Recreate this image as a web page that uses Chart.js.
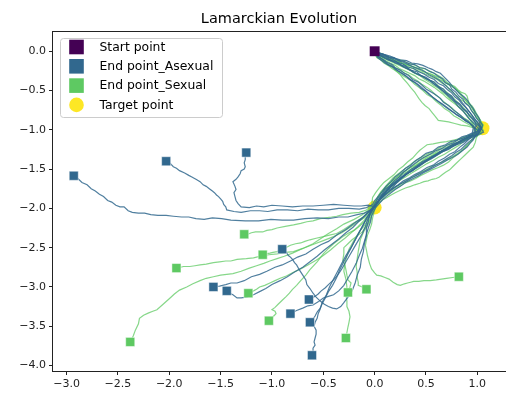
<!DOCTYPE html>
<html>
<head>
<meta charset="utf-8">
<script src="https://cdn.jsdelivr.net/npm/chart.js@4/dist/chart.umd.min.js"></script>
<style>
  html, body { margin: 0; padding: 0; background: #fff; }
  canvas { display: block; }
</style>
</head>
<body>
<canvas id="chart" width="506" height="395"></canvas>
<script>
// ---- data ---------------------------------------------------------------
const chartTitle = 'Lamarckian Evolution';
const legendLabels = ['Start point', 'End point_Asexual', 'End point_Sexual', 'Target point'];

const startPoint = [[0, 0]];
const targetPoints = [[1.05, -0.98], [0.0, -1.99]];

// each run: positions of one individual over the generations
const asexualRuns = [
  [[0,0],[0.03,-0.02],[0.07,-0.06],[0.12,-0.08],[0.16,-0.12],[0.21,-0.13],[0.26,-0.18],[0.3,-0.19],[0.35,-0.24],[0.41,-0.26],[0.45,-0.31],[0.5,-0.33],[0.54,-0.37],[0.58,-0.39],[0.62,-0.45],[0.67,-0.48],[0.7,-0.53],[0.75,-0.57],[0.78,-0.63],[0.83,-0.67],[0.86,-0.73],[0.9,-0.77],[0.92,-0.82],[0.96,-0.86],[0.98,-0.91],[0.99,-0.95],[0.97,-0.99],
   [0.97,-1.04],[0.93,-1.06],[0.9,-1.1],[0.84,-1.13],[0.79,-1.19],[0.74,-1.21],[0.68,-1.26],[0.63,-1.28],[0.58,-1.34],[0.51,-1.38],[0.46,-1.43],[0.42,-1.46],[0.37,-1.52],[0.31,-1.56],[0.26,-1.62],[0.22,-1.67],[0.17,-1.74],[0.12,-1.78],[0.08,-1.85],[0.04,-1.9],[0.01,-1.96],
   [-0.04,-2.02],[-0.1,-2.06],[-0.17,-2.08],[-0.26,-2.11],[-0.35,-2.11],[-0.45,-2.13],[-0.56,-2.12],[-0.68,-2.13],[-0.79,-2.15],[-0.9,-2.15],[-1.01,-2.14],[-1.13,-2.16],[-1.26,-2.16],[-1.4,-2.15],[-1.49,-2.13],[-1.58,-2.12],[-1.66,-2.14],[-1.74,-2.13],[-1.81,-2.11],[-1.88,-2.11],[-1.96,-2.1],[-2.03,-2.09],[-2.11,-2.09],[-2.18,-2.08],[-2.24,-2.06],[-2.3,-2.06],[-2.36,-2.05],[-2.4,-2.03],[-2.44,-1.98],[-2.48,-1.98],[-2.52,-1.96],[-2.56,-1.92],[-2.6,-1.9],[-2.64,-1.85],[-2.68,-1.82],[-2.72,-1.78],[-2.76,-1.75],[-2.8,-1.7],[-2.85,-1.67],[-2.89,-1.62],[-2.93,-1.585]],
  [[0,0],[0.04,-0.03],[0.09,-0.04],[0.14,-0.07],[0.19,-0.08],[0.24,-0.12],[0.29,-0.13],[0.34,-0.16],[0.39,-0.17],[0.44,-0.21],[0.49,-0.22],[0.54,-0.26],[0.58,-0.28],[0.62,-0.32],[0.66,-0.35],[0.69,-0.4],[0.73,-0.43],[0.75,-0.48],[0.79,-0.52],[0.82,-0.57],[0.86,-0.61],[0.88,-0.66],[0.92,-0.7],[0.94,-0.75],[0.97,-0.8],[0.99,-0.85],[1.02,-0.9],[1.03,-0.96],
   [1.0,-1.02],[0.95,-1.04],[0.9,-1.07],[0.85,-1.09],[0.8,-1.13],[0.74,-1.15],[0.69,-1.19],[0.62,-1.22],[0.57,-1.27],[0.5,-1.3],[0.45,-1.35],[0.4,-1.39],[0.35,-1.45],[0.3,-1.49],[0.25,-1.55],[0.2,-1.6],[0.16,-1.66],[0.11,-1.72],[0.07,-1.79],[0.04,-1.84],[0.0,-1.9],[-0.02,-1.95],
   [-0.08,-1.99],[-0.15,-2.01],[-0.25,-2.0],[-0.35,-2.0],[-0.45,-2.02],[-0.55,-2.02],[-0.65,-2.01],[-0.75,-2.03],[-0.85,-2.02],[-0.95,-2.02],[-1.04,-2.04],[-1.12,-2.03],[-1.21,-2.03],[-1.3,-2.05],[-1.37,-2.04],[-1.44,-2.02],[-1.45,-1.98],[-1.47,-1.95],[-1.48,-1.91],[-1.5,-1.88],[-1.52,-1.85],[-1.54,-1.83],[-1.56,-1.8],[-1.58,-1.78],[-1.61,-1.75],[-1.64,-1.72],[-1.67,-1.7],[-1.7,-1.66],[-1.74,-1.63],[-1.78,-1.6],[-1.81,-1.58],[-1.85,-1.55],[-1.9,-1.52],[-1.93,-1.49],[-1.96,-1.47],[-1.99,-1.43],[-2.03,-1.40]],
  [[0,0],[0.02,-0.05],[0.05,-0.08],[0.09,-0.11],[0.12,-0.14],[0.17,-0.17],[0.2,-0.21],[0.25,-0.24],[0.29,-0.28],[0.33,-0.31],[0.37,-0.36],[0.42,-0.39],[0.46,-0.43],[0.5,-0.48],[0.55,-0.52],[0.59,-0.55],[0.64,-0.6],[0.67,-0.65],[0.72,-0.69],[0.76,-0.74],[0.8,-0.78],[0.84,-0.82],[0.87,-0.86],[0.91,-0.89],[0.95,-0.95],[0.96,-0.98],
   [0.95,-1.04],[0.95,-1.08],[0.91,-1.13],[0.87,-1.18],[0.83,-1.22],[0.78,-1.28],[0.73,-1.31],[0.68,-1.36],[0.62,-1.4],[0.57,-1.45],[0.51,-1.48],[0.45,-1.53],[0.39,-1.57],[0.34,-1.61],[0.28,-1.65],[0.23,-1.7],[0.18,-1.74],[0.13,-1.79],[0.09,-1.84],[0.05,-1.89],[0.0,-1.98],
   [-0.06,-1.96],[-0.13,-1.97],[-0.2,-1.97],[-0.3,-1.96],[-0.4,-1.95],[-0.5,-1.96],[-0.6,-1.97],[-0.7,-1.97],[-0.8,-1.98],[-0.9,-1.97],[-1.0,-1.96],[-1.08,-1.98],[-1.15,-1.97],[-1.22,-1.99],[-1.3,-1.98],[-1.33,-1.94],[-1.35,-1.9],[-1.36,-1.85],[-1.37,-1.8],[-1.35,-1.76],[-1.36,-1.72],[-1.38,-1.66],[-1.35,-1.63],[-1.33,-1.6],[-1.31,-1.56],[-1.3,-1.52],[-1.27,-1.5],[-1.26,-1.47],[-1.27,-1.42],[-1.26,-1.38],[-1.26,-1.33],[-1.25,-1.29]],
  [[0,0],[0.04,-0.03],[0.07,-0.05],[0.12,-0.07],[0.17,-0.1],[0.22,-0.14],[0.27,-0.16],[0.32,-0.2],[0.38,-0.22],[0.43,-0.26],[0.48,-0.29],[0.53,-0.33],[0.58,-0.36],[0.62,-0.41],[0.67,-0.44],[0.71,-0.49],[0.75,-0.53],[0.78,-0.58],[0.82,-0.62],[0.85,-0.67],[0.89,-0.72],[0.92,-0.77],[0.95,-0.82],[0.97,-0.86],[1.0,-0.9],[1.02,-0.95],[1.04,-0.98],
   [1.01,-1.03],[0.98,-1.06],[0.93,-1.09],[0.88,-1.13],[0.83,-1.16],[0.77,-1.2],[0.72,-1.25],[0.66,-1.28],[0.6,-1.33],[0.55,-1.37],[0.49,-1.41],[0.44,-1.46],[0.39,-1.5],[0.33,-1.55],[0.28,-1.6],[0.23,-1.65],[0.18,-1.7],[0.13,-1.76],[0.09,-1.81],[0.05,-1.87],[0.0,-1.97],
   [-0.03,-2.02],[-0.05,-2.08],[-0.06,-2.16],[-0.08,-2.25],[-0.08,-2.35],[-0.1,-2.45],[-0.11,-2.55],[-0.13,-2.65],[-0.14,-2.75],[-0.17,-2.85],[-0.19,-2.95],[-0.22,-3.05],[-0.26,-3.13],[-0.3,-3.2],[-0.33,-3.25],[-0.37,-3.28],[-0.41,-3.27],[-0.45,-3.25],[-0.49,-3.22],[-0.53,-3.18],[-0.57,-3.13],[-0.6,-3.08],[-0.63,-3.02],[-0.66,-2.97],[-0.67,-2.91],[-0.7,-2.85],[-0.73,-2.79],[-0.76,-2.72],[-0.78,-2.69],[-0.8,-2.65],[-0.82,-2.62],[-0.84,-2.6],[-0.86,-2.56],[-0.9,-2.52]],
  [[0,0],[0.01,-0.04],[0.04,-0.07],[0.07,-0.1],[0.1,-0.13],[0.13,-0.17],[0.17,-0.19],[0.2,-0.23],[0.24,-0.26],[0.27,-0.29],[0.31,-0.32],[0.34,-0.36],[0.38,-0.39],[0.42,-0.43],[0.45,-0.47],[0.5,-0.51],[0.53,-0.55],[0.58,-0.6],[0.62,-0.64],[0.67,-0.69],[0.71,-0.73],[0.76,-0.77],[0.8,-0.81],[0.85,-0.85],[0.89,-0.89],[0.93,-0.92],[0.98,-0.98],[1.02,-1.03],[1.0,-1.07],
   [0.96,-1.08],[0.92,-1.07],[0.87,-1.1],[0.81,-1.13],[0.76,-1.17],[0.7,-1.2],[0.65,-1.24],[0.59,-1.27],[0.54,-1.31],[0.48,-1.35],[0.43,-1.39],[0.38,-1.44],[0.33,-1.49],[0.28,-1.54],[0.24,-1.6],[0.19,-1.65],[0.15,-1.71],[0.1,-1.76],[0.07,-1.82],[0.03,-1.88],[-0.02,-1.99],
   [-0.07,-2.05],[-0.12,-2.12],[-0.2,-2.19],[-0.28,-2.27],[-0.36,-2.33],[-0.45,-2.42],[-0.52,-2.46],[-0.6,-2.52],[-0.67,-2.58],[-0.75,-2.62],[-0.82,-2.67],[-0.9,-2.72],[-0.97,-2.75],[-1.05,-2.8],[-1.12,-2.84],[-1.2,-2.87],[-1.27,-2.92],[-1.34,-2.95],[-1.4,-2.95],[-1.45,-2.97],[-1.51,-2.99],[-1.57,-3.0]],
  [[0,0],[0.04,-0.02],[0.09,-0.04],[0.15,-0.06],[0.2,-0.09],[0.25,-0.11],[0.31,-0.12],[0.36,-0.15],[0.42,-0.16],[0.47,-0.18],[0.52,-0.21],[0.56,-0.23],[0.6,-0.26],[0.64,-0.28],[0.67,-0.32],[0.7,-0.36],[0.73,-0.4],[0.76,-0.45],[0.79,-0.49],[0.83,-0.54],[0.87,-0.58],[0.9,-0.62],[0.93,-0.68],[0.96,-0.73],[0.98,-0.78],[1.0,-0.82],[1.02,-0.86],[1.03,-0.9],[1.05,-0.94],[1.04,-0.99],
   [1.02,-1.03],[1.0,-1.07],[0.96,-1.11],[0.92,-1.15],[0.88,-1.2],[0.84,-1.25],[0.79,-1.29],[0.75,-1.33],[0.7,-1.37],[0.65,-1.41],[0.59,-1.45],[0.54,-1.49],[0.48,-1.53],[0.42,-1.57],[0.36,-1.61],[0.31,-1.65],[0.25,-1.69],[0.2,-1.73],[0.15,-1.78],[0.1,-1.83],[0.06,-1.88],[0.03,-1.93],
   [-0.01,-1.99],[-0.05,-2.04],[-0.1,-2.1],[-0.15,-2.16],[-0.21,-2.24],[-0.28,-2.31],[-0.35,-2.39],[-0.42,-2.46],[-0.49,-2.53],[-0.56,-2.61],[-0.63,-2.68],[-0.7,-2.75],[-0.78,-2.81],[-0.85,-2.87],[-0.92,-2.92],[-1.0,-2.97],[-1.06,-3.02],[-1.12,-3.06],[-1.18,-3.1],[-1.25,-3.13],[-1.3,-3.14],[-1.34,-3.14],[-1.38,-3.1],[-1.41,-3.08],[-1.44,-3.05]],
  [[0,0],[0.03,-0.04],[0.06,-0.06],[0.1,-0.09],[0.13,-0.11],[0.18,-0.13],[0.23,-0.16],[0.28,-0.2],[0.33,-0.23],[0.38,-0.27],[0.43,-0.3],[0.48,-0.33],[0.53,-0.37],[0.57,-0.41],[0.62,-0.45],[0.66,-0.5],[0.7,-0.54],[0.74,-0.58],[0.78,-0.63],[0.82,-0.68],[0.86,-0.73],[0.9,-0.78],[0.93,-0.83],[0.96,-0.88],[0.99,-0.92],[1.03,-0.97],[1.06,-1.03],
   [1.01,-1.06],[0.95,-1.07],[0.9,-1.1],[0.84,-1.14],[0.79,-1.17],[0.73,-1.21],[0.68,-1.25],[0.63,-1.29],[0.57,-1.33],[0.52,-1.37],[0.46,-1.41],[0.41,-1.46],[0.36,-1.5],[0.31,-1.55],[0.26,-1.6],[0.21,-1.65],[0.16,-1.7],[0.12,-1.76],[0.08,-1.82],[0.05,-1.88],[-0.01,-2.0],
   [-0.04,-2.07],[-0.07,-2.15],[-0.09,-2.23],[-0.12,-2.32],[-0.16,-2.41],[-0.2,-2.5],[-0.24,-2.59],[-0.28,-2.68],[-0.32,-2.77],[-0.36,-2.85],[-0.4,-2.91],[-0.45,-2.97],[-0.48,-3.01],[-0.52,-3.05],[-0.55,-3.09],[-0.58,-3.12],[-0.61,-3.14],[-0.64,-3.16]],
  [[0,0],[0.02,-0.05],[0.03,-0.08],[0.07,-0.12],[0.1,-0.15],[0.14,-0.18],[0.19,-0.21],[0.23,-0.25],[0.28,-0.29],[0.32,-0.33],[0.36,-0.37],[0.41,-0.41],[0.45,-0.45],[0.49,-0.5],[0.53,-0.54],[0.57,-0.59],[0.61,-0.63],[0.66,-0.67],[0.7,-0.71],[0.75,-0.76],[0.79,-0.8],[0.84,-0.84],[0.88,-0.88],[0.92,-0.91],[0.96,-0.95],[0.98,-1.0],[0.99,-1.06],
   [0.97,-1.1],[0.96,-1.13],[0.93,-1.17],[0.9,-1.22],[0.85,-1.27],[0.81,-1.31],[0.76,-1.35],[0.7,-1.39],[0.65,-1.43],[0.59,-1.47],[0.53,-1.51],[0.47,-1.55],[0.42,-1.59],[0.36,-1.63],[0.3,-1.67],[0.25,-1.72],[0.2,-1.76],[0.15,-1.81],[0.11,-1.85],[0.07,-1.9],[0.01,-1.99],
   [-0.01,-2.04],[-0.03,-2.1],[-0.04,-2.17],[-0.06,-2.24],[-0.08,-2.33],[-0.1,-2.42],[-0.12,-2.51],[-0.15,-2.6],[-0.18,-2.7],[-0.22,-2.8],[-0.26,-2.89],[-0.3,-2.98],[-0.35,-3.05],[-0.4,-3.1],[-0.45,-3.12],[-0.5,-3.14],[-0.55,-3.19],[-0.6,-3.23],[-0.65,-3.24],[-0.7,-3.27],[-0.76,-3.3],[-0.82,-3.34]],
  [[0,0],[0.04,-0.04],[0.06,-0.06],[0.11,-0.09],[0.15,-0.11],[0.2,-0.15],[0.25,-0.17],[0.3,-0.21],[0.35,-0.24],[0.4,-0.28],[0.45,-0.31],[0.5,-0.35],[0.55,-0.38],[0.59,-0.43],[0.63,-0.47],[0.67,-0.51],[0.71,-0.56],[0.75,-0.61],[0.79,-0.66],[0.82,-0.71],[0.86,-0.76],[0.89,-0.81],[0.92,-0.86],[0.95,-0.9],[0.98,-0.94],[1.01,-0.98],[1.03,-1.01],
   [0.99,-1.06],[0.96,-1.09],[0.91,-1.12],[0.86,-1.16],[0.8,-1.19],[0.75,-1.22],[0.69,-1.26],[0.63,-1.3],[0.58,-1.34],[0.52,-1.38],[0.47,-1.42],[0.41,-1.47],[0.36,-1.52],[0.3,-1.57],[0.25,-1.62],[0.2,-1.67],[0.15,-1.73],[0.11,-1.79],[0.07,-1.85],[0.04,-1.9],[-0.03,-2.01],
   [-0.06,-2.09],[-0.1,-2.18],[-0.14,-2.28],[-0.18,-2.38],[-0.22,-2.48],[-0.26,-2.58],[-0.3,-2.68],[-0.34,-2.78],[-0.37,-2.88],[-0.41,-2.98],[-0.45,-3.06],[-0.48,-3.14],[-0.51,-3.21],[-0.53,-3.27],[-0.56,-3.32],[-0.58,-3.37],[-0.6,-3.41],[-0.63,-3.45]],
  [[0,0],[0.04,-0.02],[0.08,-0.04],[0.13,-0.07],[0.18,-0.09],[0.23,-0.12],[0.28,-0.14],[0.33,-0.17],[0.38,-0.2],[0.44,-0.23],[0.49,-0.26],[0.53,-0.3],[0.58,-0.33],[0.63,-0.37],[0.67,-0.41],[0.71,-0.46],[0.75,-0.5],[0.78,-0.55],[0.82,-0.6],[0.85,-0.65],[0.88,-0.7],[0.91,-0.75],[0.94,-0.8],[0.97,-0.85],[0.99,-0.89],[1.02,-0.93],[1.04,-0.97],
   [1.0,-1.02],[0.98,-1.04],[0.93,-1.08],[0.88,-1.11],[0.83,-1.15],[0.77,-1.18],[0.72,-1.22],[0.66,-1.26],[0.61,-1.31],[0.55,-1.35],[0.5,-1.4],[0.45,-1.44],[0.4,-1.49],[0.35,-1.53],[0.29,-1.58],[0.24,-1.63],[0.19,-1.69],[0.14,-1.74],[0.1,-1.8],[0.06,-1.86],[0.0,-1.98],
   [-0.04,-2.05],[-0.08,-2.12],[-0.11,-2.21],[-0.15,-2.3],[-0.19,-2.4],[-0.23,-2.5],[-0.28,-2.6],[-0.32,-2.7],[-0.36,-2.8],[-0.4,-2.9],[-0.44,-3.0],[-0.47,-3.1],[-0.51,-3.19],[-0.53,-3.28],[-0.55,-3.34],[-0.56,-3.4],[-0.58,-3.45],[-0.59,-3.5],[-0.57,-3.55],[-0.57,-3.6],[-0.58,-3.65],[-0.59,-3.7],[-0.58,-3.74],[-0.6,-3.78],[-0.6,-3.83],[-0.61,-3.87]]
];

const sexualRuns = [
  [[0,0],[0.02,-0.04],[0.05,-0.05],[0.09,-0.08],[0.14,-0.09],[0.19,-0.12],[0.25,-0.14],[0.3,-0.17],[0.36,-0.19],[0.41,-0.21],[0.46,-0.23],[0.5,-0.27],[0.55,-0.29],[0.6,-0.32],[0.64,-0.34],[0.68,-0.39],[0.71,-0.41],[0.75,-0.43],[0.78,-0.45],[0.81,-0.49],[0.84,-0.52],[0.88,-0.54],[0.9,-0.57],[0.91,-0.62],[0.92,-0.66],[0.95,-0.7],[0.97,-0.74],[0.99,-0.79],[1.01,-0.83],[1.03,-0.88],[1.05,-0.93],
   [1.03,-0.99],[1.0,-1.03],[0.95,-1.06],[0.9,-1.08],[0.84,-1.11],[0.77,-1.13],[0.7,-1.15],[0.64,-1.16],[0.57,-1.18],[0.51,-1.19],[0.47,-1.23],[0.44,-1.26],[0.41,-1.3],[0.37,-1.36],[0.32,-1.41],[0.28,-1.46],[0.23,-1.51],[0.19,-1.57],[0.14,-1.62],[0.09,-1.67],[0.05,-1.73],[0.01,-1.8],[-0.02,-1.86],[-0.03,-1.97],
   [-0.08,-2.02],[-0.15,-2.05],[-0.23,-2.06],[-0.31,-2.08],[-0.37,-2.1],[-0.42,-2.11],[-0.48,-2.12],[-0.53,-2.13],[-0.6,-2.16],[-0.66,-2.17],[-0.72,-2.19],[-0.79,-2.21],[-0.87,-2.23],[-0.95,-2.25],[-1.0,-2.27],[-1.05,-2.28],[-1.09,-2.3],[-1.12,-2.3],[-1.16,-2.3],[-1.2,-2.31],[-1.24,-2.33],[-1.27,-2.33]],
  [[0,0],[0.01,-0.04],[0.02,-0.07],[0.05,-0.1],[0.09,-0.13],[0.12,-0.16],[0.17,-0.2],[0.2,-0.24],[0.25,-0.3],[0.28,-0.35],[0.32,-0.41],[0.35,-0.46],[0.39,-0.52],[0.41,-0.56],[0.43,-0.6],[0.46,-0.65],[0.49,-0.69],[0.53,-0.73],[0.56,-0.78],[0.59,-0.83],[0.62,-0.88],[0.67,-0.89],[0.72,-0.9],[0.78,-0.92],[0.84,-0.94],[0.9,-0.95],[0.95,-0.97],[1.0,-0.99],[1.04,-1.03],
   [1.01,-1.06],[0.99,-1.1],[0.98,-1.16],[0.96,-1.22],[0.92,-1.27],[0.88,-1.32],[0.84,-1.37],[0.8,-1.42],[0.76,-1.47],[0.73,-1.51],[0.69,-1.54],[0.66,-1.57],[0.63,-1.6],[0.6,-1.62],[0.56,-1.63],[0.52,-1.65],[0.48,-1.66],[0.44,-1.68],[0.39,-1.7],[0.35,-1.72],[0.3,-1.74],[0.25,-1.77],[0.2,-1.8],[0.16,-1.83],[0.12,-1.86],[0.08,-1.89],[0.02,-1.96],
   [-0.04,-2.03],[-0.1,-2.1],[-0.16,-2.15],[-0.22,-2.2],[-0.3,-2.27],[-0.37,-2.32],[-0.44,-2.34],[-0.5,-2.36],[-0.57,-2.38],[-0.63,-2.4],[-0.68,-2.42],[-0.72,-2.44],[-0.77,-2.45],[-0.82,-2.47],[-0.88,-2.51],[-0.95,-2.55],[-0.99,-2.56],[-1.02,-2.57],[-1.06,-2.58],[-1.09,-2.59]],
  [[0,0],[0.02,-0.03],[0.04,-0.05],[0.08,-0.08],[0.12,-0.1],[0.17,-0.11],[0.22,-0.13],[0.27,-0.16],[0.32,-0.19],[0.37,-0.22],[0.42,-0.25],[0.46,-0.27],[0.51,-0.3],[0.56,-0.33],[0.61,-0.36],[0.65,-0.4],[0.7,-0.44],[0.73,-0.49],[0.77,-0.53],[0.8,-0.57],[0.83,-0.61],[0.87,-0.64],[0.91,-0.68],[0.93,-0.72],[0.95,-0.77],[0.98,-0.82],[1.0,-0.86],[1.03,-0.9],[1.06,-0.94],
   [1.04,-0.99],[1.02,-1.04],[0.97,-1.07],[0.93,-1.1],[0.87,-1.13],[0.82,-1.16],[0.77,-1.2],[0.72,-1.24],[0.66,-1.27],[0.6,-1.3],[0.55,-1.33],[0.5,-1.36],[0.45,-1.41],[0.4,-1.45],[0.34,-1.49],[0.29,-1.53],[0.24,-1.58],[0.19,-1.63],[0.14,-1.69],[0.1,-1.75],[0.06,-1.81],[0.03,-1.87],[-0.02,-1.97],
   [-0.06,-2.05],[-0.1,-2.12],[-0.17,-2.18],[-0.25,-2.25],[-0.32,-2.31],[-0.4,-2.36],[-0.5,-2.41],[-0.6,-2.46],[-0.7,-2.51],[-0.79,-2.55],[-0.87,-2.56],[-0.95,-2.58],[-1.03,-2.59],[-1.12,-2.61],[-1.18,-2.63],[-1.25,-2.64],[-1.34,-2.65],[-1.4,-2.67],[-1.45,-2.67],[-1.51,-2.68],[-1.57,-2.69],[-1.64,-2.71],[-1.7,-2.72],[-1.75,-2.73],[-1.8,-2.74],[-1.86,-2.74],[-1.93,-2.76]],
  [[0,0],[0.01,-0.03],[0.03,-0.06],[0.07,-0.09],[0.11,-0.12],[0.15,-0.15],[0.2,-0.18],[0.24,-0.22],[0.29,-0.25],[0.34,-0.28],[0.39,-0.31],[0.43,-0.35],[0.48,-0.38],[0.53,-0.42],[0.58,-0.46],[0.62,-0.5],[0.66,-0.54],[0.7,-0.59],[0.74,-0.63],[0.78,-0.67],[0.82,-0.71],[0.86,-0.76],[0.89,-0.8],[0.92,-0.85],[0.96,-0.94],[0.97,-0.99],
   [0.97,-1.04],[0.98,-1.08],[0.95,-1.13],[0.91,-1.18],[0.88,-1.23],[0.84,-1.28],[0.8,-1.32],[0.76,-1.36],[0.72,-1.41],[0.67,-1.45],[0.62,-1.48],[0.56,-1.51],[0.5,-1.55],[0.45,-1.58],[0.4,-1.62],[0.35,-1.65],[0.29,-1.68],[0.24,-1.72],[0.19,-1.76],[0.14,-1.8],[0.1,-1.84],[0.06,-1.88],[0.01,-1.97],
   [-0.05,-2.06],[-0.1,-2.15],[-0.16,-2.23],[-0.22,-2.3],[-0.29,-2.38],[-0.36,-2.45],[-0.43,-2.53],[-0.5,-2.6],[-0.57,-2.66],[-0.65,-2.72],[-0.72,-2.77],[-0.8,-2.82],[-0.86,-2.86],[-0.92,-2.89],[-0.97,-2.92],[-1.02,-2.95],[-1.07,-2.98],[-1.12,-3.0],[-1.15,-3.03],[-1.18,-3.05],[-1.23,-3.08]],
  [[0,0],[0.03,-0.02],[0.07,-0.03],[0.11,-0.06],[0.16,-0.08],[0.21,-0.1],[0.27,-0.12],[0.32,-0.15],[0.38,-0.17],[0.43,-0.2],[0.48,-0.22],[0.53,-0.25],[0.58,-0.28],[0.62,-0.31],[0.67,-0.35],[0.7,-0.39],[0.74,-0.43],[0.78,-0.47],[0.81,-0.51],[0.84,-0.56],[0.87,-0.6],[0.9,-0.64],[0.93,-0.68],[0.95,-0.73],[0.98,-0.78],[1.0,-0.83],[1.03,-0.88],[1.04,-0.92],[1.05,-0.97],
   [1.02,-1.01],[0.99,-1.05],[0.94,-1.08],[0.88,-1.12],[0.82,-1.15],[0.76,-1.18],[0.7,-1.22],[0.64,-1.25],[0.59,-1.29],[0.53,-1.32],[0.48,-1.36],[0.43,-1.4],[0.38,-1.45],[0.33,-1.49],[0.28,-1.54],[0.23,-1.59],[0.18,-1.64],[0.13,-1.7],[0.09,-1.76],[0.05,-1.82],[0.02,-1.88],[-0.01,-1.95],
   [-0.06,-2.02],[-0.12,-2.08],[-0.2,-2.14],[-0.3,-2.2],[-0.37,-2.26],[-0.45,-2.32],[-0.52,-2.38],[-0.6,-2.45],[-0.7,-2.51],[-0.8,-2.57],[-0.88,-2.61],[-0.95,-2.64],[-1.02,-2.67],[-1.08,-2.7],[-1.15,-2.73],[-1.22,-2.76],[-1.3,-2.8],[-1.38,-2.83],[-1.44,-2.84],[-1.5,-2.85],[-1.57,-2.87],[-1.64,-2.89],[-1.7,-2.92],[-1.77,-2.96],[-1.83,-3.0],[-1.9,-3.04],[-1.95,-3.09],[-2.0,-3.15],[-2.06,-3.22],[-2.12,-3.29],[-2.16,-3.31],[-2.2,-3.33],[-2.25,-3.36],[-2.29,-3.4],[-2.3,-3.47],[-2.33,-3.55],[-2.35,-3.62],[-2.38,-3.7]],
  [[0,0],[0.01,-0.05],[0.02,-0.08],[0.06,-0.11],[0.09,-0.15],[0.13,-0.18],[0.17,-0.22],[0.22,-0.26],[0.26,-0.3],[0.3,-0.33],[0.35,-0.37],[0.39,-0.42],[0.43,-0.46],[0.47,-0.5],[0.51,-0.55],[0.56,-0.59],[0.6,-0.64],[0.64,-0.68],[0.68,-0.73],[0.73,-0.77],[0.77,-0.82],[0.81,-0.85],[0.86,-0.89],[0.9,-0.92],[0.94,-0.95],[1.0,-1.0],[1.04,-1.05],
   [0.99,-1.08],[0.94,-1.09],[0.89,-1.12],[0.83,-1.16],[0.78,-1.19],[0.72,-1.23],[0.67,-1.27],[0.62,-1.31],[0.56,-1.35],[0.51,-1.4],[0.45,-1.44],[0.4,-1.48],[0.34,-1.53],[0.29,-1.58],[0.24,-1.63],[0.19,-1.68],[0.15,-1.73],[0.11,-1.78],[0.07,-1.84],[0.04,-1.89],[0.0,-2.0],
   [-0.04,-2.07],[-0.08,-2.15],[-0.14,-2.22],[-0.2,-2.28],[-0.25,-2.31],[-0.3,-2.35],[-0.35,-2.4],[-0.4,-2.45],[-0.45,-2.51],[-0.5,-2.58],[-0.56,-2.68],[-0.63,-2.78],[-0.67,-2.85],[-0.72,-2.92],[-0.76,-2.98],[-0.8,-3.03],[-0.83,-3.08],[-0.86,-3.12],[-0.9,-3.17],[-0.94,-3.22],[-0.97,-3.26],[-1.0,-3.29],[-0.97,-3.31],[-0.96,-3.34],[-0.99,-3.38],[-1.03,-3.43]],
  [[0,0],[0.03,-0.03],[0.06,-0.05],[0.11,-0.07],[0.16,-0.09],[0.21,-0.12],[0.27,-0.15],[0.32,-0.17],[0.37,-0.2],[0.42,-0.23],[0.47,-0.26],[0.52,-0.28],[0.57,-0.31],[0.62,-0.35],[0.66,-0.38],[0.7,-0.41],[0.74,-0.44],[0.78,-0.47],[0.81,-0.5],[0.84,-0.54],[0.86,-0.58],[0.88,-0.62],[0.9,-0.65],[0.93,-0.68],[0.95,-0.72],[0.97,-0.77],[0.98,-0.82],[1.01,-0.87],[1.03,-0.91],[1.04,-0.99],
   [1.0,-1.03],[0.97,-1.07],[0.92,-1.11],[0.87,-1.14],[0.83,-1.19],[0.78,-1.23],[0.73,-1.27],[0.68,-1.31],[0.62,-1.35],[0.57,-1.39],[0.51,-1.43],[0.46,-1.47],[0.41,-1.51],[0.36,-1.55],[0.3,-1.6],[0.25,-1.64],[0.2,-1.69],[0.15,-1.74],[0.11,-1.8],[0.07,-1.85],[0.01,-1.96],
   [-0.02,-2.05],[-0.05,-2.15],[-0.08,-2.22],[-0.12,-2.3],[-0.17,-2.35],[-0.22,-2.4],[-0.26,-2.45],[-0.3,-2.5],[-0.3,-2.58],[-0.31,-2.66],[-0.29,-2.72],[-0.28,-2.78],[-0.27,-2.85],[-0.26,-2.91],[-0.23,-2.95],[-0.24,-3.0],[-0.26,-3.07]],
  [[0,0],[0.02,-0.02],[0.04,-0.04],[0.08,-0.07],[0.13,-0.1],[0.18,-0.12],[0.23,-0.15],[0.28,-0.19],[0.33,-0.22],[0.37,-0.26],[0.42,-0.29],[0.47,-0.32],[0.52,-0.36],[0.57,-0.39],[0.61,-0.43],[0.65,-0.47],[0.69,-0.51],[0.73,-0.55],[0.77,-0.6],[0.81,-0.65],[0.85,-0.7],[0.88,-0.74],[0.91,-0.79],[0.94,-0.83],[0.97,-0.88],[1.0,-0.92],[1.02,-0.96],
   [0.99,-1.01],[0.97,-1.05],[0.92,-1.07],[0.87,-1.1],[0.81,-1.13],[0.75,-1.16],[0.69,-1.2],[0.63,-1.23],[0.58,-1.27],[0.53,-1.3],[0.48,-1.33],[0.43,-1.37],[0.38,-1.41],[0.33,-1.46],[0.28,-1.51],[0.23,-1.56],[0.18,-1.61],[0.14,-1.67],[0.1,-1.73],[0.06,-1.79],[0.03,-1.85],[0.01,-1.92],[-0.02,-2.0],
   [-0.03,-2.08],[-0.04,-2.15],[-0.07,-2.22],[-0.1,-2.28],[-0.12,-2.34],[-0.14,-2.4],[-0.15,-2.48],[-0.16,-2.55],[-0.17,-2.64],[-0.18,-2.74],[-0.17,-2.81],[-0.17,-2.88],[-0.16,-2.94],[-0.16,-2.98],[-0.12,-3.0],[-0.1,-3.02],[-0.08,-3.03]],
  [[0,0],[0.01,-0.04],[0.03,-0.07],[0.07,-0.11],[0.11,-0.14],[0.15,-0.17],[0.19,-0.2],[0.24,-0.24],[0.28,-0.27],[0.33,-0.3],[0.37,-0.34],[0.42,-0.38],[0.46,-0.42],[0.51,-0.46],[0.55,-0.5],[0.59,-0.55],[0.63,-0.59],[0.67,-0.64],[0.71,-0.68],[0.75,-0.72],[0.79,-0.77],[0.83,-0.81],[0.87,-0.85],[0.91,-0.88],[0.94,-0.92],[0.97,-0.95],[0.98,-1.0],
   [0.99,-1.04],[0.97,-1.09],[0.94,-1.14],[0.9,-1.2],[0.86,-1.25],[0.82,-1.29],[0.77,-1.33],[0.72,-1.37],[0.66,-1.41],[0.61,-1.44],[0.55,-1.47],[0.5,-1.51],[0.45,-1.54],[0.4,-1.58],[0.34,-1.62],[0.29,-1.66],[0.24,-1.7],[0.19,-1.74],[0.14,-1.78],[0.1,-1.83],[0.06,-1.88],[0.03,-1.93],
   [0.0,-2.02],[-0.02,-2.12],[-0.03,-2.2],[-0.05,-2.28],[-0.07,-2.34],[-0.08,-2.4],[-0.09,-2.47],[-0.08,-2.53],[-0.07,-2.6],[-0.05,-2.7],[-0.03,-2.77],[0.0,-2.82],[0.02,-2.85],[0.06,-2.86],[0.1,-2.88],[0.14,-2.9],[0.18,-2.94],[0.22,-2.97],[0.25,-2.98],[0.29,-2.96],[0.32,-2.95],[0.35,-2.94],[0.38,-2.93],[0.43,-2.93],[0.48,-2.92],[0.54,-2.92],[0.6,-2.91],[0.65,-2.9],[0.7,-2.89],[0.76,-2.88],[0.82,-2.87]],
  [[0,0],[0.02,-0.04],[0.05,-0.06],[0.09,-0.09],[0.14,-0.12],[0.19,-0.15],[0.24,-0.18],[0.29,-0.21],[0.34,-0.24],[0.39,-0.28],[0.44,-0.31],[0.48,-0.35],[0.53,-0.39],[0.57,-0.43],[0.62,-0.47],[0.66,-0.52],[0.7,-0.56],[0.74,-0.61],[0.78,-0.65],[0.81,-0.7],[0.85,-0.74],[0.88,-0.79],[0.91,-0.84],[0.94,-0.88],[0.97,-0.92],[1.03,-0.96],[1.06,-1.01],
   [1.01,-1.04],[0.96,-1.06],[0.91,-1.1],[0.86,-1.13],[0.81,-1.17],[0.75,-1.2],[0.7,-1.24],[0.65,-1.27],[0.59,-1.31],[0.54,-1.35],[0.48,-1.39],[0.43,-1.43],[0.38,-1.48],[0.33,-1.52],[0.27,-1.57],[0.22,-1.62],[0.17,-1.68],[0.13,-1.73],[0.09,-1.79],[0.06,-1.85],[0.0,-1.98],
   [-0.03,-2.06],[-0.06,-2.13],[-0.1,-2.22],[-0.15,-2.3],[-0.19,-2.38],[-0.22,-2.45],[-0.25,-2.52],[-0.27,-2.6],[-0.29,-2.7],[-0.3,-2.8],[-0.28,-2.9],[-0.27,-3.0],[-0.28,-3.1],[-0.27,-3.18],[-0.27,-3.25],[-0.25,-3.31],[-0.24,-3.38],[-0.25,-3.45],[-0.26,-3.51],[-0.27,-3.58],[-0.28,-3.65]]
];

const xTicks = [-3.0, -2.5, -2.0, -1.5, -1.0, -0.5, 0.0, 0.5, 1.0];
const yTicks = [0.0, -0.5, -1.0, -1.5, -2.0, -2.5, -3.0, -3.5, -4.0];

// ---- styling --------------------------------------------------------------
const COLORS = {
  start: '#440154',
  asexual: '#31688e',
  sexual: '#5ec962',
  target: '#fde725',
  asexualLine: 'rgba(49,104,142,0.85)',
  sexualLine: 'rgba(94,201,98,0.75)'
};
const FONT = '"DejaVu Sans", "Liberation Sans", sans-serif';

const toXY = p => ({ x: p[0], y: p[1] });
const lastPoint = run => toXY(run[run.length - 1]);
const fmtTick = v => (v < 0 ? '\u2212' : '') + Math.abs(v).toFixed(1);

// lower "order" is painted later, i.e. on top
const datasets = [];
datasets.push({
  label: legendLabels[0], data: startPoint.map(toXY),
  pointStyle: 'rect', pointRadius: 7, backgroundColor: COLORS.start,
  borderColor: COLORS.start, borderWidth: 0, order: 0
});
datasets.push({
  label: legendLabels[1], data: asexualRuns.map(lastPoint),
  pointStyle: 'rect', pointRadius: 6.4, backgroundColor: COLORS.asexual,
  borderColor: 'rgba(255,255,255,0.6)', borderWidth: 0.8, order: 1
});
datasets.push({
  label: legendLabels[2], data: sexualRuns.map(lastPoint),
  pointStyle: 'rect', pointRadius: 6.4, backgroundColor: COLORS.sexual,
  borderColor: 'rgba(255,255,255,0.6)', borderWidth: 0.8, order: 1
});
asexualRuns.forEach(run => datasets.push({
  data: run.map(toXY), showLine: true, pointRadius: 0, borderWidth: 1.2,
  borderColor: COLORS.asexualLine, tension: 0, order: 2
}));
sexualRuns.forEach(run => datasets.push({
  data: run.map(toXY), showLine: true, pointRadius: 0, borderWidth: 1.2,
  borderColor: COLORS.sexualLine, tension: 0, order: 2
}));
datasets.push({
  label: legendLabels[3], data: targetPoints.map(toXY),
  pointStyle: 'circle', pointRadius: 7, backgroundColor: COLORS.target,
  borderColor: COLORS.target, borderWidth: 0, order: 3
});

// frame, title and legend box
const overlay = {
  id: 'overlay',
  afterDraw(chart) {
    const { ctx, chartArea: a } = chart;
    ctx.save();
    ctx.strokeStyle = '#222';
    ctx.lineWidth = 1;
    ctx.strokeRect(a.left - 0.5, a.top - 0.5, a.right - a.left + 1, a.bottom - a.top + 1);

    ctx.fillStyle = '#000';
    ctx.font = '14.5px ' + FONT;
    ctx.textAlign = 'center';
    ctx.textBaseline = 'alphabetic';
    ctx.fillText(chartTitle, (a.left + 505) / 2, 22.7);

    // legend
    const bx = 60.5, by = 38.5, bw = 162, bh = 79;
    ctx.beginPath();
    ctx.roundRect(bx, by, bw, bh, 3);
    ctx.fillStyle = 'rgba(255,255,255,0.8)';
    ctx.fill();
    ctx.strokeStyle = '#cccccc';
    ctx.stroke();

    const swatches = [
      { color: COLORS.start, shape: 'rect' },
      { color: COLORS.asexual, shape: 'rect' },
      { color: COLORS.sexual, shape: 'rect' },
      { color: COLORS.target, shape: 'circle' }
    ];
    ctx.font = '12.4px ' + FONT;
    ctx.textAlign = 'left';
    ctx.textBaseline = 'middle';
    swatches.forEach((s, i) => {
      const cy = 47 + i * 19.3, cx = 76.5, h = 7.3;
      ctx.fillStyle = s.color;
      if (s.shape === 'rect') {
        ctx.fillRect(cx - h, cy - h, 2 * h, 2 * h);
      } else {
        ctx.beginPath();
        ctx.arc(cx, cy, h, 0, Math.PI * 2);
        ctx.fill();
      }
      ctx.fillStyle = '#000';
      ctx.fillText(legendLabels[i], 99.5, cy + 0.5);
    });
    ctx.restore();
  }
};

const axisCommon = {
  type: 'linear',
  grid: { drawOnChartArea: false, drawTicks: true, tickLength: 4, color: '#222', lineWidth: 1 },
  border: { display: false },
  ticks: {
    font: { family: FONT, size: 11 }, color: '#222', padding: 3,
    maxRotation: 0, autoSkip: false, includeBounds: false,
    callback: v => fmtTick(v)
  }
};

new Chart(document.getElementById('chart'), {
  type: 'scatter',
  data: { datasets },
  options: {
    responsive: false,
    animation: false,
    devicePixelRatio: 1,
    events: [],
    layout: { autoPadding: false, padding: { top: 32, right: 0, left: 0, bottom: 0 } },
    plugins: { legend: { display: false }, tooltip: { enabled: false }, title: { display: false } },
    scales: {
      x: Object.assign({}, axisCommon, {
        position: 'bottom', min: -3.132, max: 1.279,
        afterBuildTicks: s => { s.ticks = xTicks.map(v => ({ value: v })); },
        afterFit: s => { s.height = 24; }
      }),
      y: Object.assign({}, axisCommon, {
        position: 'left', min: -4.07, max: 0.245,
        afterBuildTicks: s => { s.ticks = yTicks.map(v => ({ value: v })); },
        afterFit: s => { s.width = 53; }
      })
    }
  },
  plugins: [overlay]
});
</script>
</body>
</html>
